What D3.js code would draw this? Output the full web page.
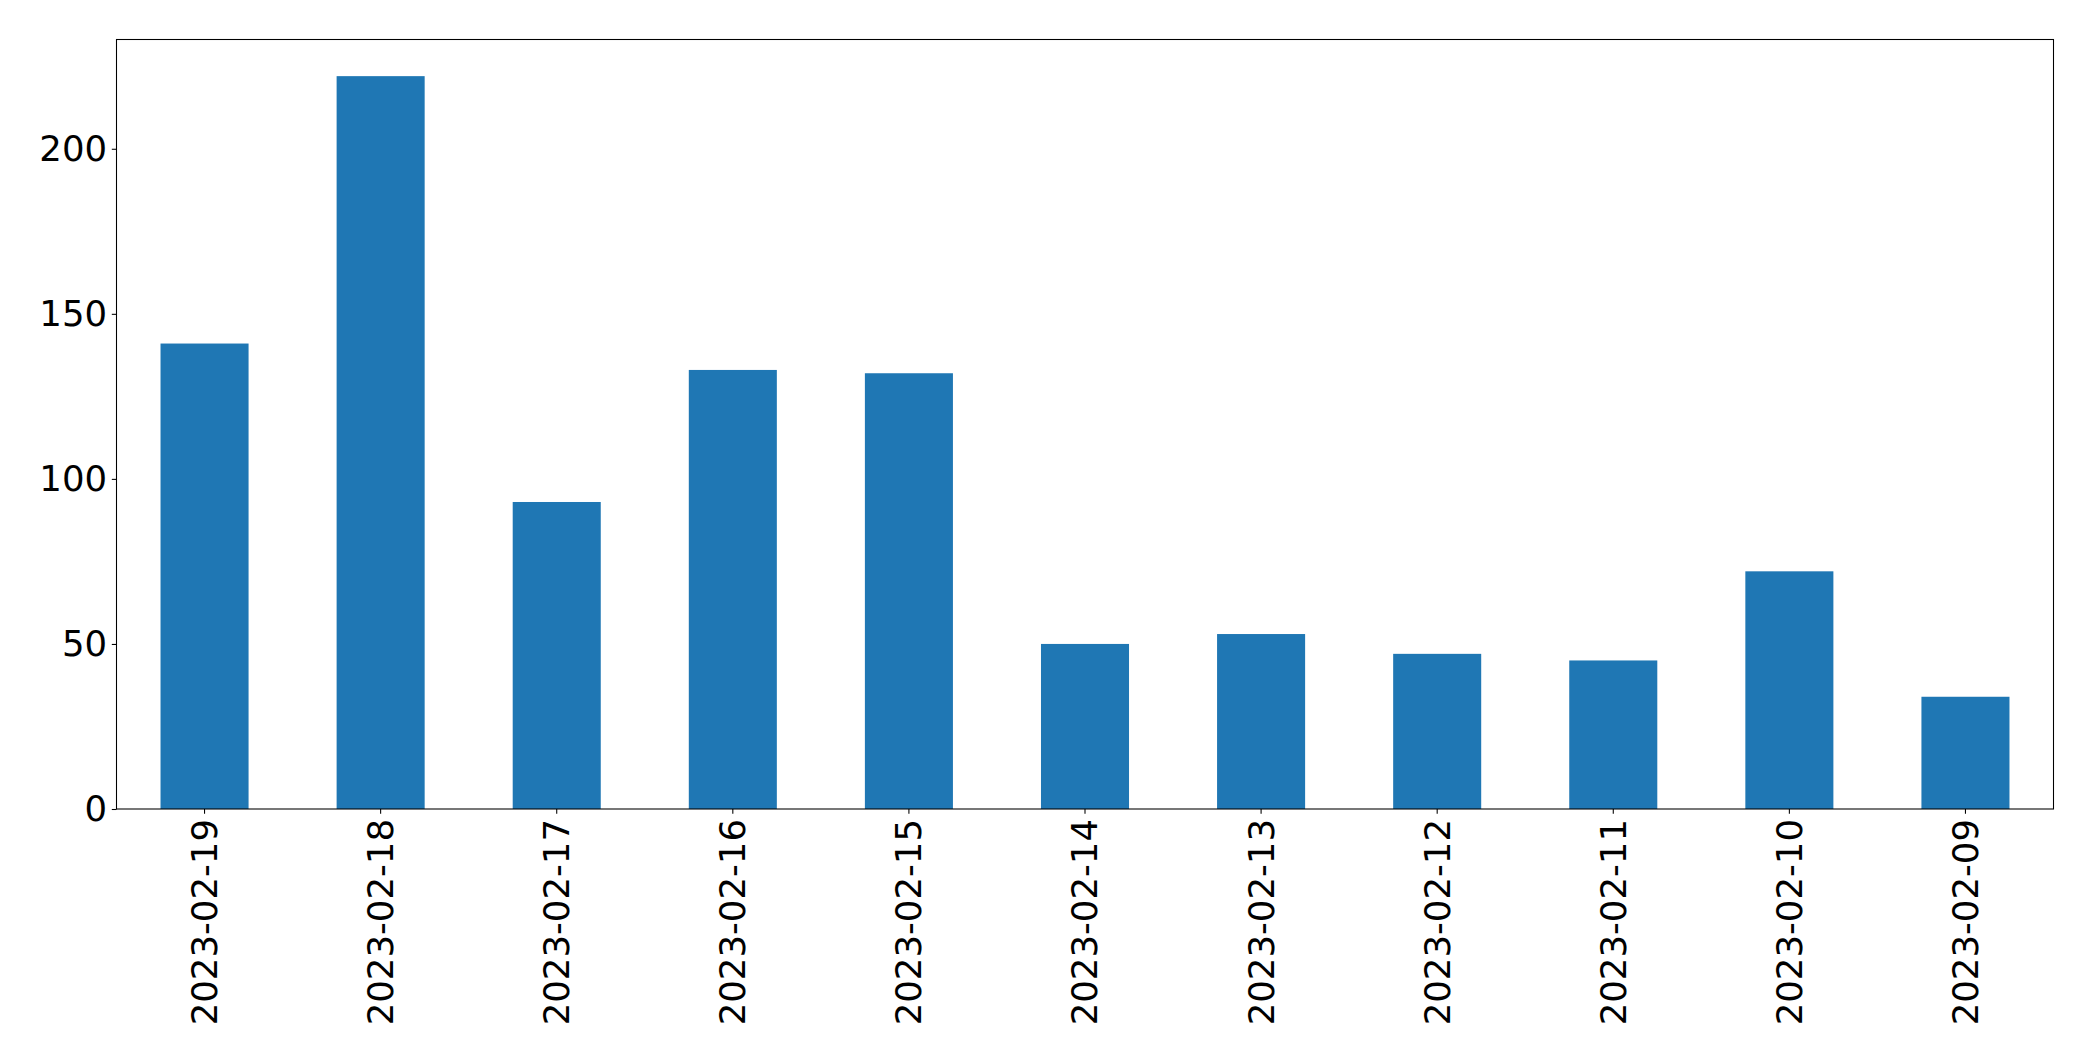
<!DOCTYPE html>
<html>
<head>
<meta charset="utf-8">
<script src="https://cdn.jsdelivr.net/npm/d3@7"></script>
<style>
  html, body { margin: 0; padding: 0; background: #fff; }
  svg { display: block; }
  text { font-family: "DejaVu Sans", sans-serif; fill: #000; }
</style>
</head>
<body>
<svg id="chart" width="2093" height="1061"></svg>
<script>
const categories = ["2023-02-19","2023-02-18","2023-02-17","2023-02-16","2023-02-15","2023-02-14","2023-02-13","2023-02-12","2023-02-11","2023-02-10","2023-02-09"];
const values = [141, 222, 93, 133, 132, 50, 53, 47, 45, 72, 34];
const yTicks = [0, 50, 100, 150, 200];

const W = 2093, H = 1061;
const margin = {left: 116.5, right: 2093 - 2053.5, top: 39.5, bottom: 1061 - 809};
const svg = d3.select("#chart");
const g = svg.append("g");

const x = d3.scaleBand()
  .domain(categories)
  .range([margin.left, W - margin.right])
  .paddingInner(0.5)
  .paddingOuter(0.25);

const y = d3.scaleLinear()
  .domain([0, d3.max(values) * 1.05])
  .range([H - margin.bottom, margin.top]);

g.selectAll("rect.bar")
  .data(values)
  .join("rect")
  .attr("class", "bar")
  .attr("x", (d, i) => x(categories[i]))
  .attr("width", x.bandwidth())
  .attr("y", d => y(d))
  .attr("height", d => y(0) - y(d))
  .attr("fill", "#1f77b4");

const fontSize = 35.5;

// y axis
const yAxis = g.append("g")
  .attr("transform", `translate(${margin.left},0)`)
  .call(d3.axisLeft(y).tickValues(yTicks).tickSize(4.7).tickPadding(4.7).tickFormat(d3.format("d")));
yAxis.select(".domain").remove();
yAxis.selectAll("line").attr("stroke", "#000").attr("stroke-width", 1.07);
yAxis.selectAll("text").attr("font-size", fontSize).attr("font-family", "DejaVu Sans").attr("fill", "#000");

// x axis
const xAxis = g.append("g")
  .attr("transform", `translate(0,${H - margin.bottom})`)
  .call(d3.axisBottom(x).tickSize(4.7).tickPadding(0));
xAxis.select(".domain").remove();
xAxis.selectAll("line").attr("stroke", "#000").attr("stroke-width", 1.07);
xAxis.selectAll("text")
  .attr("font-size", fontSize)
  .attr("font-family", "DejaVu Sans")
  .attr("fill", "#000")
  .attr("text-anchor", "end")
  .attr("dy", "0.35em")
  .attr("transform", "translate(0,10) rotate(-90)")
  .attr("x", 0)
  .attr("y", 0);

// frame
g.append("rect")
  .attr("x", margin.left)
  .attr("y", margin.top)
  .attr("width", W - margin.left - margin.right)
  .attr("height", H - margin.top - margin.bottom)
  .attr("fill", "none")
  .attr("stroke", "#000")
  .attr("stroke-width", 1.07);
</script>
</body>
</html>
